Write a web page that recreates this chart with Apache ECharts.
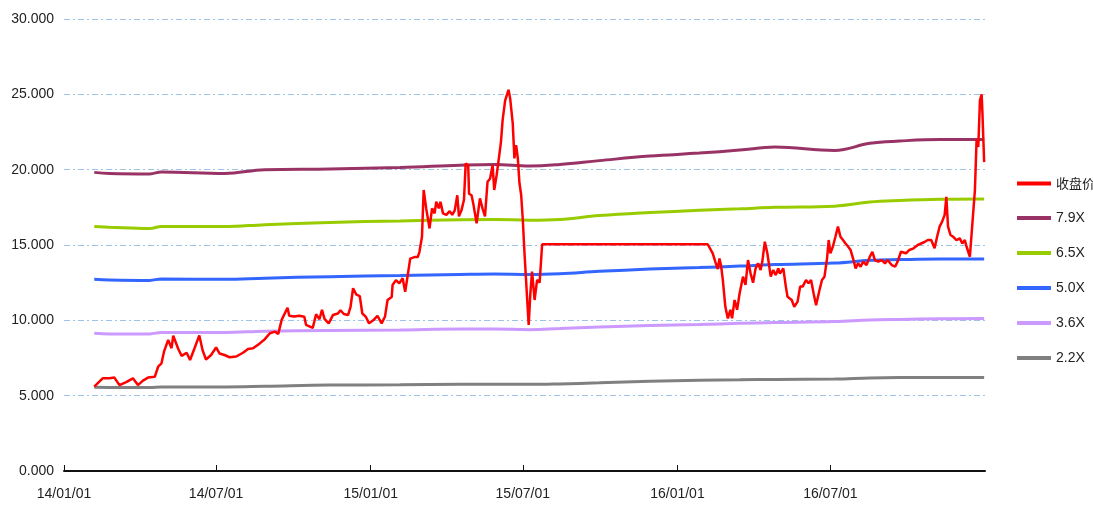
<!DOCTYPE html>
<html lang="zh-CN">
<head>
  <meta charset="UTF-8">
  <title>收盘价与PE通道</title>
  <style>
    html, body { margin: 0; padding: 0; background: #fff; }
    #chart { width: 1093px; height: 512px; }
  </style>
</head>
<body>
  <div id="chart"></div>
  <script src="https://cdn.jsdelivr.net/npm/echarts@6/dist/echarts.min.js"></script>
  <script>
  // 数据
  var seriesNames = ['收盘价', '7.9X', '6.5X', '5.0X', '3.6X', '2.2X'];
  var xTickDates = ['2014-01-01', '2014-07-01', '2015-01-01', '2015-07-01', '2016-01-01', '2016-07-01'];

  var priceDates = [
    '2014-02-06','2014-02-16','2014-02-24','2014-03-02','2014-03-08','2014-03-16','2014-03-24','2014-03-30',
    '2014-04-05','2014-04-11','2014-04-19','2014-04-23','2014-04-27','2014-04-30','2014-05-05','2014-05-09',
    '2014-05-11','2014-05-17','2014-05-21','2014-05-27','2014-05-31','2014-06-05','2014-06-11','2014-06-15',
    '2014-06-19','2014-06-25','2014-07-01','2014-07-05','2014-07-11','2014-07-17','2014-07-25','2014-08-02',
    '2014-08-08','2014-08-14','2014-08-22','2014-08-28','2014-09-03','2014-09-09','2014-09-13','2014-09-17',
    '2014-09-24','2014-09-26','2014-10-02','2014-10-08','2014-10-14','2014-10-16','2014-10-20','2014-10-24',
    '2014-10-28','2014-11-01','2014-11-04','2014-11-07','2014-11-12','2014-11-17','2014-11-23','2014-11-26',
    '2014-11-30','2014-12-05','2014-12-08','2014-12-11','2014-12-15','2014-12-19','2014-12-22','2014-12-26',
    '2014-12-30','2015-01-04','2015-01-09','2015-01-14','2015-01-18','2015-01-21','2015-01-26','2015-01-27',
    '2015-01-31','2015-02-04','2015-02-08','2015-02-11','2015-02-14','2015-02-17','2015-02-22','2015-02-26',
    '2015-02-28','2015-03-03','2015-03-05','2015-03-08','2015-03-10','2015-03-12','2015-03-15','2015-03-18',
    '2015-03-20','2015-03-23','2015-03-25','2015-03-28','2015-04-01','2015-04-05','2015-04-08','2015-04-11',
    '2015-04-14','2015-04-16','2015-04-19','2015-04-22','2015-04-24','2015-04-27','2015-04-28','2015-05-01',
    '2015-05-03','2015-05-07','2015-05-11','2015-05-14','2015-05-17','2015-05-20','2015-05-23','2015-05-26',
    '2015-05-28','2015-05-31','2015-06-03','2015-06-05','2015-06-07','2015-06-10','2015-06-12','2015-06-14',
    '2015-06-16','2015-06-19','2015-06-21','2015-06-23','2015-06-25','2015-06-27','2015-06-29','2015-07-01',
    '2015-07-03','2015-07-06','2015-07-08','2015-07-10','2015-07-12','2015-07-15','2015-07-18','2015-07-21',
    '2015-07-24','2016-02-06','2016-02-12','2016-02-15','2016-02-18','2016-02-20','2016-02-22','2016-02-24',
    '2016-02-27','2016-03-01','2016-03-04','2016-03-06','2016-03-09','2016-03-12','2016-03-15','2016-03-19',
    '2016-03-22','2016-03-25','2016-03-28','2016-03-31','2016-04-03','2016-04-06','2016-04-09','2016-04-11',
    '2016-04-14','2016-04-17','2016-04-19','2016-04-21','2016-04-24','2016-04-27','2016-04-30','2016-05-02',
    '2016-05-06','2016-05-09','2016-05-11','2016-05-16','2016-05-19','2016-05-23','2016-05-26','2016-05-29',
    '2016-06-02','2016-06-05','2016-06-08','2016-06-11','2016-06-14','2016-06-18','2016-06-21','2016-06-24',
    '2016-06-27','2016-06-29','2016-07-01','2016-07-04','2016-07-07','2016-07-10','2016-07-13','2016-07-16',
    '2016-07-19','2016-07-22','2016-07-25','2016-07-28','2016-07-31','2016-08-03','2016-08-06','2016-08-09',
    '2016-08-13','2016-08-17','2016-08-20','2016-08-23','2016-08-27','2016-08-31','2016-09-04','2016-09-07',
    '2016-09-12','2016-09-16','2016-09-19','2016-09-23','2016-09-29','2016-10-03','2016-10-08','2016-10-13',
    '2016-10-17','2016-10-21','2016-10-25','2016-10-29','2016-11-02','2016-11-05','2016-11-08','2016-11-11',
    '2016-11-14','2016-11-16','2016-11-18','2016-11-21','2016-11-24','2016-11-28','2016-12-02','2016-12-05',
    '2016-12-08','2016-12-10','2016-12-14','2016-12-17','2016-12-20','2016-12-22','2016-12-24','2016-12-26',
    '2016-12-28','2016-12-29','2016-12-30','2016-12-31'
  ];
  var priceValues = [
    5.6, 6.15, 6.15, 6.2, 5.7, 5.9, 6.15, 5.7,
    6.0, 6.2, 6.25, 6.92, 7.15, 7.92, 8.7, 8.15,
    8.98, 8.1, 7.64, 7.85, 7.37, 8.1, 9.0, 8.0,
    7.4, 7.7, 8.2, 7.8, 7.7, 7.55, 7.6, 7.85,
    8.1, 8.14, 8.47, 8.75, 9.14, 9.25, 9.1, 10.03,
    10.84, 10.3, 10.25, 10.3, 10.24, 9.7, 9.6, 9.5,
    10.4, 10.07, 10.7, 10.1, 9.8, 10.35, 10.45, 10.67,
    10.42, 10.35, 10.9, 12.13, 11.7, 11.6, 10.45, 10.25,
    9.8, 10.0, 10.3, 9.8, 10.25, 11.35, 11.55, 12.35,
    12.67, 12.45, 12.8, 11.9, 12.98, 14.1, 14.2, 14.2,
    14.55, 15.55, 18.65, 17.43, 17.5, 16.1, 17.43, 17.1,
    17.87, 17.43, 17.87, 17.1, 17.0, 17.25, 17.0, 17.3,
    18.3, 16.9, 17.3, 18.0, 20.4, 20.3, 18.4, 18.3,
    17.76, 16.44, 18.1, 17.43, 16.9, 19.2, 19.4, 20.3,
    18.65, 19.7, 20.97, 21.85, 23.3, 24.6, 24.7, 25.3,
    24.7, 23.07, 20.75, 21.63, 20.8, 19.1, 18.35, 16.66,
    14.45, 11.57, 9.7, 11.8, 13.23, 11.35, 12.68, 12.5,
    15.05, 15.05, 14.45, 13.9, 13.4, 14.1, 13.6, 12.68,
    10.9, 10.13, 10.7, 10.13, 11.35, 10.7, 11.8, 12.9,
    12.35, 14.0, 13.12, 12.5, 13.45, 13.78, 13.34, 13.9,
    15.22, 14.45, 14.55, 12.9, 13.34, 13.0, 13.45, 13.1,
    13.45, 12.24, 11.57, 11.35, 10.9, 11.24, 12.24, 12.24,
    12.68, 12.46, 12.68, 11.8, 11.0, 12.0, 12.68, 12.9,
    14.1, 15.33, 14.45, 14.9, 15.55, 16.22, 15.55, 15.33,
    15.1, 14.9, 14.67, 14.1, 13.45, 13.78, 13.56, 13.9,
    13.67, 14.23, 14.55, 14.0, 13.9, 14.0, 13.78, 14.0,
    13.67, 13.56, 13.9, 14.55, 14.45, 14.67, 14.78, 15.0,
    15.1, 15.2, 15.33, 15.33, 14.78, 15.55, 16.22, 16.55,
    17.0, 18.2, 16.22, 15.66, 15.55, 15.33, 15.44, 15.1,
    15.33, 14.9, 14.22, 16.44, 18.65, 22.0, 21.5, 24.6,
    25.0, 23.7, 22.07, 20.5
  ];

  var bandDates = [
    '2014-02-06','2014-02-24','2014-04-13','2014-04-27','2014-07-11','2014-08-28','2014-11-13','2015-02-05',
    '2015-04-17','2015-05-28','2015-07-09','2015-08-14','2015-09-30','2015-11-29','2016-01-27','2016-03-15',
    '2016-04-26','2016-07-06','2016-08-17','2016-09-21','2016-11-08','2016-12-31'
  ];
  var band79 = [19.82, 19.75, 19.72, 19.85, 19.75, 20.0, 20.05, 20.15, 20.3, 20.35, 20.25, 20.35,
                20.6, 20.9, 21.1, 21.3, 21.5, 21.28, 21.75, 21.9, 22.0, 22.0];
  var band65 = [16.22, 16.18, 16.1, 16.22, 16.22, 16.35, 16.5, 16.6, 16.68, 16.7, 16.65, 16.7,
                16.95, 17.15, 17.3, 17.4, 17.5, 17.58, 17.85, 17.95, 18.03, 18.05];
  var band50 = [12.72, 12.68, 12.65, 12.75, 12.72, 12.8, 12.9, 12.98, 13.05, 13.08, 13.05, 13.1,
                13.25, 13.4, 13.5, 13.6, 13.7, 13.8, 13.98, 14.03, 14.07, 14.07];
  var band36 = [9.14, 9.1, 9.1, 9.2, 9.2, 9.28, 9.32, 9.36, 9.42, 9.42, 9.38, 9.45,
                9.55, 9.65, 9.72, 9.8, 9.85, 9.92, 10.02, 10.06, 10.1, 10.12];
  var band22 = [5.56, 5.55, 5.55, 5.58, 5.58, 5.62, 5.7, 5.72, 5.75, 5.76, 5.75, 5.78,
                5.85, 5.95, 6.02, 6.05, 6.08, 6.1, 6.18, 6.2, 6.2, 6.2];

  var colors = ['#FF0000', '#993366', '#99CC00', '#3366FF', '#CC99FF', '#808080'];
  var FONT = '"Liberation Sans", Arial, sans-serif';

  function ts(d) {
    var p = d.split('-');
    return new Date(+p[0], +p[1] - 1, +p[2]).getTime();
  }
  function pairs(dates, values) {
    return dates.map(function (d, i) { return [ts(d), values[i]]; });
  }
  function pad(n) { return (n < 10 ? '0' : '') + n; }

  var myChart = echarts.init(document.getElementById('chart'));

  var bandData = [band79, band65, band50, band36, band22];
  var series = [];
  // 通道线
  for (var i = 0; i < bandData.length; i++) {
    series.push({
      name: seriesNames[i + 1],
      type: 'line',
      symbol: 'none',
      smooth: 0.4,
      data: pairs(bandDates, bandData[i]),
      lineStyle: { color: colors[i + 1], width: 3 },
      itemStyle: { color: colors[i + 1] },
      z: 2
    });
  }
  // 收盘价
  series.push({
    name: seriesNames[0],
    type: 'line',
    symbol: 'none',
    data: pairs(priceDates, priceValues),
    lineStyle: { color: colors[0], width: 2.5 },
    itemStyle: { color: colors[0] },
    z: 3
  });

  var tickValues = xTickDates.map(ts);

  var option = {
    animation: false,
    backgroundColor: '#fff',
    grid: { left: 64, right: 108, top: 19, bottom: 41 },
    legend: {
      data: seriesNames,
      orient: 'vertical',
      left: 1010,
      top: 172,
      itemWidth: 34,
      itemHeight: 14,
      itemGap: 21,
      itemStyle: { opacity: 0 },
      lineStyle: { width: 4 },
      formatter: function (name) {
        return /[\u4e00-\u9fa5]/.test(name) ? '{cn|' + name + '}' : name;
      },
      textStyle: {
        color: '#222',
        fontSize: 14,
        fontFamily: FONT,
        rich: {
          cn: { fontSize: 13, fontFamily: '"Noto Sans CJK SC", sans-serif', color: '#222' }
        }
      }
    },
    xAxis: {
      type: 'value',
      min: ts('2014-01-01'),
      max: ts('2017-01-01'),
      axisLine: { lineStyle: { color: '#111', width: 2 } },
      axisTick: { show: true, inside: true, length: 6, customValues: tickValues, lineStyle: { color: '#111' } },
      axisLabel: {
        customValues: tickValues,
        margin: 16,
        color: '#222',
        fontSize: 14,
        fontFamily: FONT,
        formatter: function (v) {
          var d = new Date(v);
          return pad(d.getFullYear() % 100) + '/' + pad(d.getMonth() + 1) + '/' + pad(d.getDate());
        }
      },
      splitLine: { show: false }
    },
    yAxis: {
      type: 'value',
      min: 0,
      max: 30,
      interval: 5,
      axisLine: { show: false },
      axisTick: { show: false },
      axisLabel: {
        margin: 10,
        color: '#222',
        fontSize: 14,
        fontFamily: FONT,
        formatter: function (v) { return v.toFixed(3); }
      },
      splitLine: {
        lineStyle: { color: '#9DC3E6', width: 1, type: [6, 3, 2, 3] }
      }
    },
    series: series
  };

  myChart.setOption(option);
  </script>
</body>
</html>
